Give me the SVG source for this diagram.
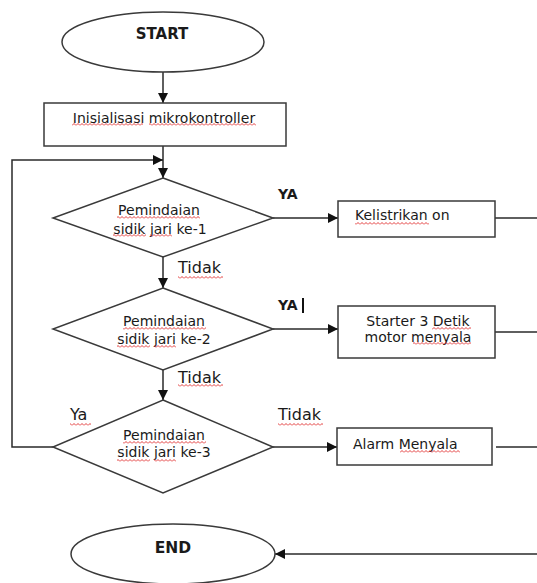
<svg xmlns="http://www.w3.org/2000/svg" width="537" height="583" viewBox="0 0 537 583">
<style>
.shape{fill:#fff;stroke:#3a3a3a;stroke-width:1.5}
.line{fill:none;stroke:#2a2a2a;stroke-width:1.5}
text{font-family:"DejaVu Sans","Liberation Sans",sans-serif;font-size:14px;fill:#1a1a1a}
.b{font-weight:bold}
.c{text-anchor:middle}
.lbl{font-size:16px}
.sq{fill:url(#wave)}
</style>
<defs>
<marker id="ah" viewBox="0 0 10 10" refX="10" refY="5" markerWidth="10" markerHeight="10" markerUnits="userSpaceOnUse" orient="auto">
<path d="M0,0 L10,5 L0,10 z" fill="#111"/>
</marker>
<pattern id="wave" patternUnits="userSpaceOnUse" x="0" y="0" width="4" height="3">
<path d="M0,2.5 L2,0.5 L4,2.5" fill="none" stroke="#e02828" stroke-width="0.9"/>
</pattern>
</defs>
<rect width="537" height="583" fill="#fff"/>
<g id="connectors">
<line class="line" x1="163" y1="72" x2="163" y2="103" marker-end="url(#ah)"/>
<line class="line" x1="163" y1="146" x2="163" y2="178" marker-end="url(#ah)"/>
<polyline class="line" points="53,447 12,447 12,160 163,160" marker-end="url(#ah)"/>
<line class="line" x1="163" y1="257" x2="163" y2="288" marker-end="url(#ah)"/>
<line class="line" x1="163" y1="370" x2="163" y2="400" marker-end="url(#ah)"/>
<line class="line" x1="273" y1="218" x2="338" y2="218" marker-end="url(#ah)"/>
<line class="line" x1="273" y1="329" x2="338" y2="329" marker-end="url(#ah)"/>
<line class="line" x1="273" y1="447" x2="337" y2="447" marker-end="url(#ah)"/>
<line class="line" x1="495" y1="218" x2="537" y2="218"/>
<line class="line" x1="495" y1="332" x2="537" y2="332"/>
<line class="line" x1="496" y1="447" x2="537" y2="447"/>
<line class="line" x1="537" y1="554" x2="275" y2="554" marker-end="url(#ah)"/>
<text x="278" y="199" class="b">YA</text>
<text x="278" y="310" class="b">YA</text>
<rect x="302" y="298" width="2" height="15" fill="#111"/>
<text x="178" y="273" class="lbl">Tidak</text>
<rect class="sq" x="178" y="276" width="45" height="3"/>
<text x="178" y="383" class="lbl">Tidak</text>
<rect class="sq" x="178" y="384" width="45" height="3"/>
<text x="70" y="420" class="lbl">Ya</text>
<rect class="sq" x="70" y="423" width="21" height="3"/>
<text x="278" y="420" class="lbl">Tidak</text>
<rect class="sq" x="278" y="423" width="45" height="3"/>
</g>
<g id="start">
<ellipse class="shape" cx="163" cy="42" rx="101" ry="30"/>
<text x="162" y="39" class="c b" style="font-size:15px">START</text>
</g>
<g id="init">
<rect class="shape" x="44" y="103" width="242" height="43"/>
<text x="164" y="123" class="c">Inisialisasi mikrokontroller</text>
<rect class="sq" x="72" y="123" width="71" height="3"/>
<rect class="sq" x="149" y="123" width="107" height="3"/>
</g>
<g id="scan1">
<polygon class="shape" points="163,178 273,218 163,257 53,218"/>
<text x="159" y="215" class="c">Pemindaian</text>
<rect class="sq" x="117" y="216" width="83" height="3"/>
<text x="160" y="234" class="c">sidik jari ke-1</text>
<rect class="sq" x="113" y="234" width="33" height="3"/>
<rect class="sq" x="150" y="234" width="22" height="3"/>
</g>
<g id="scan2">
<polygon class="shape" points="163,288 273,329 163,370 53,329"/>
<text x="164" y="326" class="c">Pemindaian</text>
<rect class="sq" x="123" y="327" width="83" height="3"/>
<text x="164" y="344" class="c">sidik jari ke-2</text>
<rect class="sq" x="117" y="345" width="33" height="3"/>
<rect class="sq" x="154" y="345" width="22" height="3"/>
</g>
<g id="scan3">
<polygon class="shape" points="163,400 273,447 163,493 53,447"/>
<text x="164" y="440" class="c">Pemindaian</text>
<rect class="sq" x="123" y="441" width="83" height="3"/>
<text x="164" y="457" class="c">sidik jari ke-3</text>
<rect class="sq" x="117" y="459" width="33" height="3"/>
<rect class="sq" x="154" y="459" width="22" height="3"/>
</g>
<g id="listrik">
<rect class="shape" x="338" y="201" width="157" height="36"/>
<text x="355" y="220">Kelistrikan on</text>
<rect class="sq" x="355" y="222" width="74" height="3"/>
</g>
<g id="starter">
<rect class="shape" x="338" y="306" width="157" height="52"/>
<text x="418" y="326" class="c">Starter 3 Detik</text>
<rect class="sq" x="432" y="327" width="39" height="3"/>
<text x="418" y="342" class="c">motor menyala</text>
<rect class="sq" x="413" y="342" width="58" height="3"/>
</g>
<g id="alarm">
<rect class="shape" x="337" y="428" width="155" height="37"/>
<text x="353" y="449">Alarm Menyala</text>
<rect class="sq" x="400" y="450" width="60" height="3"/>
</g>
<g id="end">
<ellipse class="shape" cx="173" cy="554" rx="102" ry="30"/>
<text x="173" y="553" class="c b" style="font-size:15.5px">END</text>
</g>
</svg>
